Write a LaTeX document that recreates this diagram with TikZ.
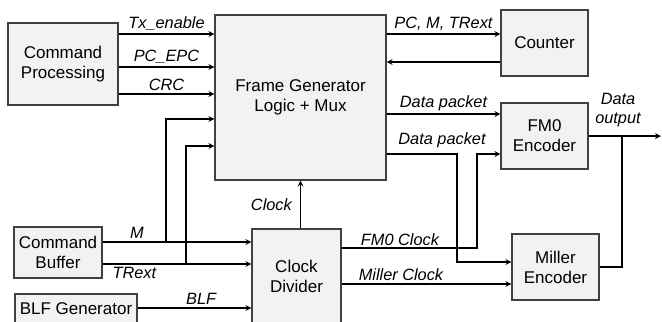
\documentclass[tikz,border=0pt]{standalone}
\usepackage{fontspec}
\setmainfont{Liberation Sans}
\usetikzlibrary{positioning, calc}
\definecolor{boxfill}{HTML}{F2F2F2}
\definecolor{boxline}{HTML}{404040}
\tikzset{
	arrow/.style={line width=1pt, ->, >=stealth},
	wire/.style={line width=1pt},
	block/.style={draw=boxline, fill=boxfill, line width=0.8pt, inner sep=0pt, align=center, font=\fontsize{12.75}{15}\selectfont},
	lbl/.style={font=\fontsize{12.25}{14}\selectfont\itshape, inner sep=2pt, align=center},
}

\begin{document}
\begin{tikzpicture}[x=0.75pt, y=-0.75pt]
			\useasboundingbox (0,0) rectangle (662,322);
			\clip (0,0) rectangle (662,322);

			\node[block, minimum width=82.5pt, minimum height=61.5pt] (cp) at (63,64) {Command\\Processing};
			\node[block, minimum width=128.25pt, minimum height=123.75pt] (fg) at (300.5,97.5) {Frame Generator\\Logic + Mux};
			\node[block, minimum width=65.25pt, minimum height=49.5pt] (cnt) at (544.5,43) {Counter};
			\node[block, minimum width=65.25pt, minimum height=49.5pt] (fm0) at (544.5,136) {FM0\\Encoder};
			\node[block, minimum width=65.25pt, minimum height=49.5pt] (me) at (555.5,267) {Miller\\Encoder};
			\node[block, minimum width=66pt, minimum height=38.25pt] (cb) at (58,252.5) {Command\\Buffer};
			\node[block, minimum width=91.5pt, minimum height=22.5pt] (blf) at (76,309) {BLF Generator};
			\node[block, minimum width=66.75pt, minimum height=70.5pt] (cd) at (296.5,276) {Clock\\Divider};

			\coordinate (jm) at (166,242);
			\coordinate (jt) at (186,264);
			\coordinate (dp) at (457,262);
			\coordinate (fc) at (477,154);
			\coordinate (out) at (661,136);

			\draw[arrow] (cp.east |- 0,34) -- node[lbl, above] {Tx\_enable} (fg.west |- 0,34);
			\draw[arrow] (cp.east |- 0,67) -- node[lbl, above] {PC\_EPC} (fg.west |- 0,67);
			\draw[arrow] (cp.east |- 0,94) -- node[lbl, above] {CRC} (fg.west |- 0,94);

			\draw[arrow] (cb.east |- jm) -- node[lbl, above, xshift=-30] {M} (cd.west |- jm);
			\draw[arrow] (cb.east |- jt) -- node[lbl, below, xshift=-32] {TRext} (cd.west |- jt);
			\draw[arrow] (jm) |- (fg.west |- 0,119);
			\draw[arrow] (jt) |- (fg.west |- 0,146);
			\draw[arrow] (blf.east |- 0,308) -- node[lbl, above, xshift=5] {BLF} (cd.west |- 0,308);

			\draw[arrow] (cd.north -| fg.south) -- node[lbl, left, xshift=-4] {Clock} (fg.south);

			\draw[arrow] (fg.east |- 0,34) -- node[lbl, above] {PC, M, TRext} (cnt.west |- 0,34);
			\draw[arrow] (cnt.west |- 0,62) -- (fg.east |- 0,62);
			\draw[arrow] (fg.east |- 0,114) -- node[lbl, above] {Data packet} (fm0.west |- 0,114);
			\draw[arrow] (fg.east |- fc) -| (dp) -- (me.west |- dp);
			\node[lbl] (dpl) at (442,140) {Data packet};

			\draw[arrow] (cd.east |- 0,248) -| (fc) -- (fm0.west |- fc);
			\node[lbl] (fcl) at (400,240) {FM0 Clock};
			\draw[arrow] (cd.east |- 0,284) -- (me.west |- 0,284);
			\node[lbl] (mcl) at (401,275) {Miller Clock};

			\draw[arrow] (fm0.east |- out) -- (out);
			\draw[wire] (me.east) -| (622,136);
			\node[lbl] (dol) at (618,110) {Data\\output};
\end{tikzpicture}
\end{document}
